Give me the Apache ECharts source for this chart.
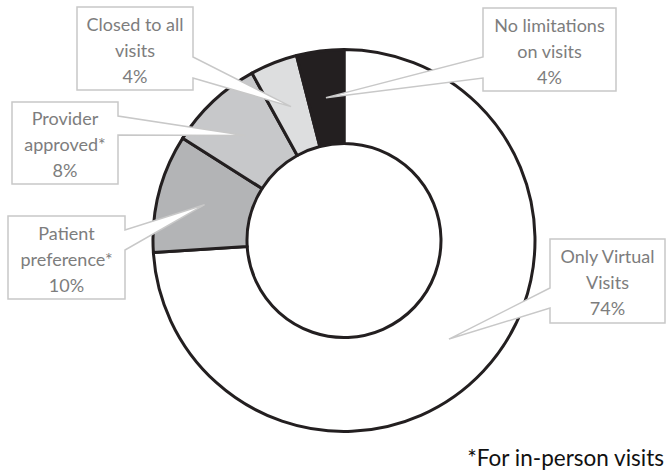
<!DOCTYPE html>
<html>
<head>
<meta charset="utf-8">
<script src="https://cdn.jsdelivr.net/npm/echarts@6/dist/echarts.min.js"></script>
<style>
  html, body { margin: 0; padding: 0; background: #fff; }
  #chart { width: 669px; height: 471px; }
</style>
</head>
<body>
<div id="chart"></div>
<script>
// Visit policy shares, clockwise from 12 o'clock
const categories = [
  'Only Virtual\nVisits',
  'Patient\npreference*',
  'Provider\napproved*',
  'Closed to all\nvisits',
  'No limitations\non visits'
];
const shares = [74, 10, 8, 4, 4];
const footnote = '*For in-person visits';

// Slice fills, one per category
const sliceColors = ['#ffffff', '#b3b4b6', '#c7c8ca', '#dddedf', '#231f20'];

// Callout boxes: [x, y, w, h], side the pointer leaves from, pointer base (offsets from box top)
const callouts = [
  { box: [550, 239, 115, 84], side: 'left',  base: [49, 69] },
  { box: [8, 216, 117, 83],   side: 'right', base: [14, 34] },
  { box: [12, 102, 106, 82],  side: 'right', base: [14, 33] },
  { box: [77, 7, 116, 83],    side: 'right', base: [50, 71] },
  { box: [483, 8, 133, 83],   side: 'left',  base: [49, 70] }
];

const LABEL_FONT = 'Lato, "Open Sans", sans-serif';

const chart = echarts.init(document.getElementById('chart'), null, { renderer: 'svg' });

chart.setOption({
  animation: false,
  backgroundColor: '#ffffff',
  series: [{
    type: 'pie',
    center: [344, 240.5],
    radius: [97, 191],
    startAngle: 90,
    clockwise: true,
    avoidLabelOverlap: false,
    label: { show: false },
    labelLine: { show: false },
    emphasis: { disabled: true },
    itemStyle: { borderColor: '#231f20', borderWidth: 3 },
    data: categories.map((name, i) => ({
      name,
      value: shares[i],
      itemStyle: { color: sliceColors[i] }
    }))
  }]
});

// Build callout shapes whose pointer tips sit at each slice's mid-angle, mid-radius
const data = chart.getModel().getSeriesByIndex(0).getData();
const elements = [];
categories.forEach((name, i) => {
  const lay = data.getItemLayout(i);
  const mid = (lay.startAngle + lay.endAngle) / 2;
  const rm = (lay.r + lay.r0) / 2;
  const tip = [lay.cx + rm * Math.cos(mid), lay.cy + rm * Math.sin(mid)];
  const c = callouts[i];
  const [x, y, w, h] = c.box;
  let pts;
  if (c.side === 'right') {
    pts = [[x, y], [x + w, y], [x + w, y + c.base[0]], tip, [x + w, y + c.base[1]], [x + w, y + h], [x, y + h]];
  } else {
    pts = [[x, y], [x + w, y], [x + w, y + h], [x, y + h], [x, y + c.base[1]], tip, [x, y + c.base[0]]];
  }
  elements.push({
    type: 'polygon',
    z: 10,
    shape: { points: pts },
    style: { fill: '#ffffff', stroke: '#c8c8c8', lineWidth: 1.5 }
  });
  elements.push({
    type: 'text',
    z: 11,
    x: x + w / 2,
    y: y + h / 2 + 1,
    style: {
      text: name + '\n' + shares[i] + '%',
      font: '18px ' + LABEL_FONT,
      lineHeight: 26,
      fill: '#7d7d7d',
      align: 'center',
      verticalAlign: 'middle'
    }
  });
});

elements.push({
  type: 'text',
  z: 11,
  right: 4,
  bottom: 2,
  style: {
    text: footnote,
    font: '22.5px ' + LABEL_FONT,
    fill: '#111111'
  }
});

chart.setOption({ graphic: { elements } });
</script>
</body>
</html>
